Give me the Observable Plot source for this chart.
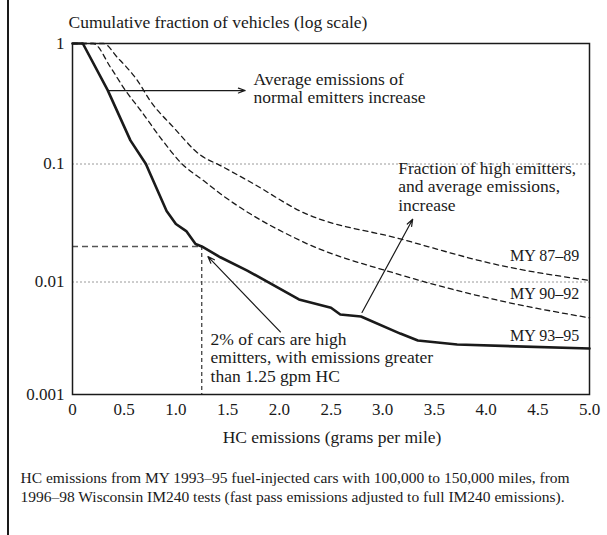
<!DOCTYPE html>
<html>
<head>
<meta charset="utf-8">
<script src="https://cdn.jsdelivr.net/npm/d3@7"></script>
<script src="https://cdn.jsdelivr.net/npm/@observablehq/plot@0.6"></script>
<style>
  body { margin: 0; background: #fff; }
  #wrap { position: relative; width: 607px; height: 535px; }
  #edge { position: absolute; left: 7px; top: 0; width: 2px; height: 535px; background: #1a1a1a; }
  #wrap svg { position: absolute; left: 0; top: 0; }
  #wrap svg, #wrap svg text { font-family: "Liberation Serif", "Times New Roman", serif; }
</style>
</head>
<body>
<div id="wrap"><div id="edge"></div></div>
<script>
// HC emissions (g/mi) and cumulative fraction of vehicles above that level
const hcMY93 = [0, 0.1, 0.34, 0.56, 0.71, 0.75, 0.91, 1.0, 1.1, 1.19, 1.25, 1.43, 1.69, 2.19, 2.5, 2.59, 2.79, 3.17, 3.34, 3.72, 5.0];
const fracMY93 = [1, 1, 0.41, 0.157, 0.1, 0.083, 0.04, 0.031, 0.027, 0.021, 0.02, 0.0162, 0.0125, 0.007, 0.0059, 0.00514, 0.00493, 0.00348, 0.00302, 0.00278, 0.00256];

const hcMY90 = [0, 0.2, 0.37, 0.51, 0.66, 0.87, 1.06, 1.27, 1.43, 2.2, 3.17, 4.14, 5.0];
const fracMY90 = [1, 1, 0.63, 0.41, 0.278, 0.157, 0.1, 0.072, 0.056, 0.0225, 0.0115, 0.0068, 0.0048];

const hcMY87 = [0, 0.3, 0.435, 0.63, 0.75, 0.98, 1.24, 1.43, 1.75, 2.2, 3.17, 4.14, 5.0];
const fracMY87 = [1, 1, 0.765, 0.49, 0.336, 0.2, 0.118, 0.097, 0.068, 0.04, 0.0232, 0.0138, 0.0103];

const seriesNames = ["MY 93–95", "MY 90–92", "MY 87–89"];
const labelX = [4.9, 4.9, 4.9];
const labelY = [0.00331, 0.0079, 0.0165];

const xTicks = [0, 0.5, 1, 1.5, 2, 2.5, 3, 3.5, 4, 4.5, 5];
const yTicks = [1, 0.1, 0.01, 0.001];
const gridY = [0.1, 0.01];

// high-emitter cutoff: 2% of cars above 1.25 g/mi
const cutoffHC = 1.25;
const cutoffFrac = 0.02;

// annotation arrows
const arrowX1 = [0.34, 2.8, 2.01];
const arrowY1 = [0.407, 0.00536, 0.0036];
const arrowX2 = [1.67, 3.29, 1.31];
const arrowY2 = [0.407, 0.034, 0.0164];

// annotation texts
const noteText = [
  "Average emissions of\nnormal emitters increase",
  "Fraction of high emitters,\nand average emissions,\nincrease",
  "2% of cars are high\nemitters, with emissions greater\nthan 1.25 gpm HC"
];
const noteX = [1.75, 3.15, 1.335];
const noteY = [0.426, 0.0645, 0.00213];

const caption = "HC emissions from MY 1993–95 fuel-injected cars with 100,000 to 150,000 miles, from\n1996–98 Wisconsin IM240 tests (fast pass emissions adjusted to full IM240 emissions).";

const toRows = (xs, ys) => xs.map((x, i) => ({x, y: ys[i]}));
const my93 = toRows(hcMY93, fracMY93);
const my90 = toRows(hcMY90, fracMY90);
const my87 = toRows(hcMY87, fracMY87);
const arrows = arrowX1.map((x1, i) => ({x1, y1: arrowY1[i], x2: arrowX2[i], y2: arrowY2[i]}));
const notes = noteText.map((t, i) => ({t, x: noteX[i], y: noteY[i]}));
const labels = seriesNames.map((t, i) => ({t, x: labelX[i], y: labelY[i]}));

const serif = "Liberation Serif";
const ink = "#1a1a1a";

const chart = Plot.plot({
  width: 607,
  height: 535,
  marginTop: 43,
  marginBottom: 141,
  marginLeft: 72,
  marginRight: 18,
  style: {fontFamily: serif, fontSize: "17px", color: ink, background: "transparent"},
  x: {domain: [0, 5]},
  y: {type: "log", domain: [0.001, 0.01, 0.1, 1], range: [394, 281.5, 163.5, 43]},
  marks: [
    Plot.ruleY(gridY, {stroke: "#9a9a9a", strokeWidth: 1, strokeDasharray: "2,2"}),
    Plot.axisX(xTicks, {tickSize: 0, tickPadding: 8, fontSize: 17, fontFamily: serif, label: null,
      tickFormat: d => d === 0 ? "0" : d.toFixed(1)}),
    Plot.axisY(yTicks, {tickSize: 0, tickPadding: 8, fontSize: 17, fontFamily: serif, label: null,
      tickFormat: d => String(d)}),
    // cutoff guides
    Plot.ruleY([cutoffFrac], {x1: 0, x2: cutoffHC, stroke: "#555", strokeWidth: 1.5, strokeDasharray: "6,4"}),
    Plot.ruleX([cutoffHC], {y1: cutoffFrac, y2: 0.001, stroke: "#333", strokeWidth: 1.2, strokeDasharray: "4,3"}),
    // curves
    Plot.line(my87, {x: "x", y: "y", stroke: ink, strokeWidth: 1.3, strokeDasharray: "5,4", curve: "monotone-x"}),
    Plot.line(my90, {x: "x", y: "y", stroke: ink, strokeWidth: 1.3, strokeDasharray: "5,4", curve: "monotone-x"}),
    Plot.line(my93, {x: "x", y: "y", stroke: ink, strokeWidth: 2.6, curve: "linear"}),
    Plot.frame({stroke: ink, strokeWidth: 1.5}),
    // annotations
    Plot.arrow(arrows, {x1: "x1", y1: "y1", x2: "x2", y2: "y2", stroke: ink, strokeWidth: 1.2, headLength: 9, headAngle: 40}),
    Plot.text(notes, {x: "x", y: "y", text: "t", textAnchor: "start", lineAnchor: "middle", fontSize: 17.5, fontFamily: serif, lineHeight: 1.06, fill: ink}),
    Plot.text(labels, {x: "x", y: "y", text: "t", textAnchor: "end", lineAnchor: "middle", fontSize: 16, fontFamily: serif, fill: ink}),
    // titles
    Plot.text(["Cumulative fraction of vehicles (log scale)"], {frameAnchor: "top-left", dx: -4, dy: -21, textAnchor: "start", lineAnchor: "middle", fontSize: 17.5, fontFamily: serif, fill: ink}),
    Plot.text(["HC emissions (grams per mile)"], {frameAnchor: "bottom", dx: 1, dy: 43, lineAnchor: "middle", fontSize: 17.5, fontFamily: serif, fill: ink}),
    Plot.text([caption], {frameAnchor: "bottom-left", dx: -52, dy: 91.5, textAnchor: "start", lineAnchor: "middle", fontSize: 15.5, fontFamily: serif, lineHeight: 1.22, fill: ink})
  ]
});
document.getElementById("wrap").appendChild(chart);
</script>
</body>
</html>
